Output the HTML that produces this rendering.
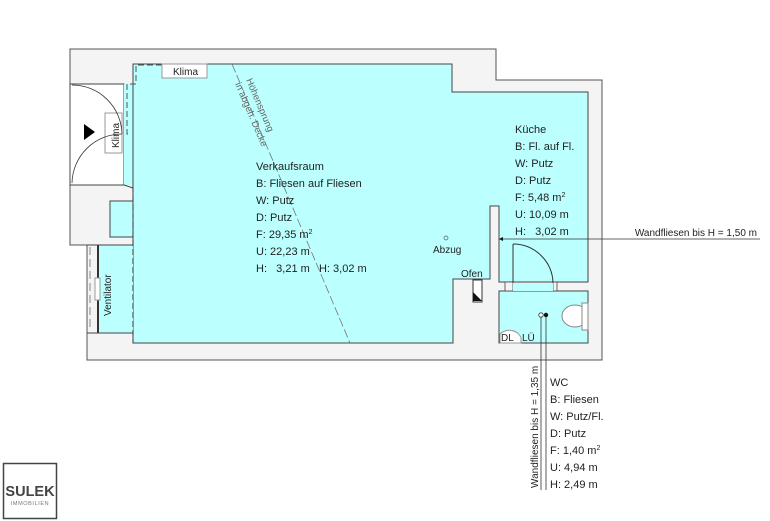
<!DOCTYPE html>
<html><head><meta charset="utf-8"><style>
html,body{margin:0;padding:0;background:#fff;}
svg{display:block;font-family:"Liberation Sans",Arial,sans-serif;}
</style></head><body>
<svg width="770" height="521" viewBox="0 0 770 521" xmlns="http://www.w3.org/2000/svg">
<polygon points="70,49 496,49 496,80 602,80 602,360 87,360 87,245 70,245" fill="#f4f4f4" stroke="#555" stroke-width="1"/>
<rect x="70" y="84" width="54" height="101" fill="#fff" stroke="#444" stroke-width="1"/>
<rect x="124" y="84" width="9" height="101" fill="#bff"/>
<polygon points="133,64 452,64 452,92 588,92 588,282 499,282 499,206 490,206 490,279 453,279 453,343 133,343" fill="#bff" stroke="#444" stroke-width="1"/>
<polygon points="110,201 133,201 133,237 110,237" fill="#bff" stroke="#444" stroke-width="1"/>
<line x1="124" y1="185" x2="133" y2="188" stroke="#444"/>
<rect x="98" y="245" width="35" height="88" fill="#bff"/>
<line x1="98" y1="245" x2="98" y2="333" stroke="#333" stroke-width="2"/>
<line x1="87" y1="245" x2="133" y2="245" stroke="#444"/>
<line x1="87" y1="333" x2="133" y2="333" stroke="#444"/>
<line x1="90" y1="247" x2="90" y2="331" stroke="#888" stroke-dasharray="8,4"/>
<rect x="95" y="278" width="5" height="22" fill="#fff" stroke="#999"/>
<text transform="translate(111,316) rotate(-90)" font-size="10" fill="#222">Ventilator</text>
<line x1="133" y1="186" x2="133" y2="343" stroke="#333" stroke-dasharray="6,3"/>
<polyline points="162,65 136,65 136,84 127,84 127,134 128,134" fill="none" stroke="#555" stroke-dasharray="6,3"/>
<rect x="499" y="291" width="89" height="52" fill="#bff" stroke="#444" stroke-width="1"/>
<rect x="505" y="282" width="8" height="9" fill="#f4f4f4" stroke="#444" stroke-width="0.8"/>
<rect x="553" y="282" width="4" height="9" fill="#f4f4f4" stroke="#444" stroke-width="0.8"/>
<rect x="513" y="283" width="40" height="8" fill="#bff"/>
<line x1="513" y1="244" x2="513" y2="283" stroke="#333"/>
<path d="M513,244 A40,40 0 0 1 553,283" fill="none" stroke="#333"/>
<rect x="473" y="280" width="9" height="22" fill="#fff" stroke="#333"/>
<polygon points="473,292 482,301 473,301" fill="#111"/>
<text x="461" y="277" font-size="10" fill="#222">Ofen</text>
<circle cx="446" cy="238" r="2" fill="none" stroke="#555" stroke-width="0.7"/>
<text x="433" y="253" font-size="10" fill="#222">Abzug</text>
<rect x="162" y="64" width="45" height="14" fill="#fff" stroke="#999"/>
<text x="173" y="75" font-size="10" fill="#222">Klima</text>
<rect x="105" y="113" width="17" height="40" fill="#fff" stroke="#999"/>
<text transform="translate(119,148) rotate(-90)" font-size="10" fill="#222">Klima</text>
<path d="M72,85 A50,50 0 0 1 122,134" fill="none" stroke="#333" stroke-width="0.8"/>
<path d="M122,134 A50,50 0 0 0 72,183" fill="none" stroke="#333" stroke-width="0.8"/>
<polygon points="84,124 84,140 95,132" fill="#000"/>
<line x1="232" y1="64" x2="350" y2="343" stroke="#777" stroke-dasharray="9,3" stroke-width="0.8"/>
<text transform="translate(246,80) rotate(67)" font-size="9.5" fill="#666">Höhensprung</text>
<text transform="translate(235,84) rotate(67)" font-size="9.5" fill="#666">in abgeh. Decke</text>
<ellipse cx="575" cy="316" rx="13" ry="11" fill="#fff" stroke="#888"/>
<rect x="582" y="303" width="6" height="27" fill="#fff" stroke="#888"/>
<path d="M500,343 L500,334 A12,10 0 0 1 521,338 L521,343 Z" fill="#fff" stroke="#999"/>
<text x="501" y="341" font-size="10" fill="#222">DL</text>
<text x="522" y="341" font-size="10" fill="#222">LÜ</text>
<circle cx="541" cy="315" r="2.2" fill="#fff" stroke="#333" stroke-width="0.8"/>
<circle cx="546" cy="315" r="2.2" fill="#111"/>
<line x1="541" y1="317" x2="541" y2="490" stroke="#333" stroke-width="0.8"/>
<line x1="546" y1="317" x2="546" y2="490" stroke="#333" stroke-width="0.8"/>
<text transform="translate(538,488) rotate(-90)" font-size="10" fill="#222">Wandfliesen bis H = 1,35 m</text>
<line x1="499" y1="239" x2="760" y2="239" stroke="#333" stroke-width="0.8"/>
<polygon points="499,239 503,237 503,241" fill="#111"/>
<text x="757" y="236" font-size="10" fill="#222" text-anchor="end">Wandfliesen bis H = 1,50 m</text>
<g font-size="11" fill="#222">
<text x="256" y="170">Verkaufsraum</text>
<text x="256" y="187">B: Fliesen auf Fliesen</text>
<text x="256" y="204">W: Putz</text>
<text x="256" y="221">D: Putz</text>
<text x="256" y="238">F: 29,35 m<tspan font-size="7" dy="-4">2</tspan></text>
<text x="256" y="255">U: 22,23 m</text>
<text x="256" y="272" xml:space="preserve">H:   3,21 m   H: 3,02 m</text>
<text x="515" y="133">Küche</text>
<text x="515" y="150">B: Fl. auf Fl.</text>
<text x="515" y="167">W: Putz</text>
<text x="515" y="184">D: Putz</text>
<text x="515" y="201">F: 5,48 m<tspan font-size="7" dy="-4">2</tspan></text>
<text x="515" y="218">U: 10,09 m</text>
<text x="515" y="235" xml:space="preserve">H:   3,02 m</text>
<text x="550" y="386">WC</text>
<text x="550" y="403">B: Fliesen</text>
<text x="550" y="420">W: Putz/Fl.</text>
<text x="550" y="437">D: Putz</text>
<text x="550" y="454">F: 1,40 m<tspan font-size="7" dy="-4">2</tspan></text>
<text x="550" y="471">U: 4,94 m</text>
<text x="550" y="488">H: 2,49 m</text>
</g>
<rect x="3.5" y="463.5" width="53" height="55" fill="#fff" stroke="#444" stroke-width="1.5"/>
<text x="30" y="496" font-size="14.5" font-weight="bold" fill="#444" text-anchor="middle">SULEK</text>
<text x="30" y="505" font-size="5.5" fill="#777" text-anchor="middle" letter-spacing="0.6">IMMOBILIEN</text>
</svg>
</body></html>
